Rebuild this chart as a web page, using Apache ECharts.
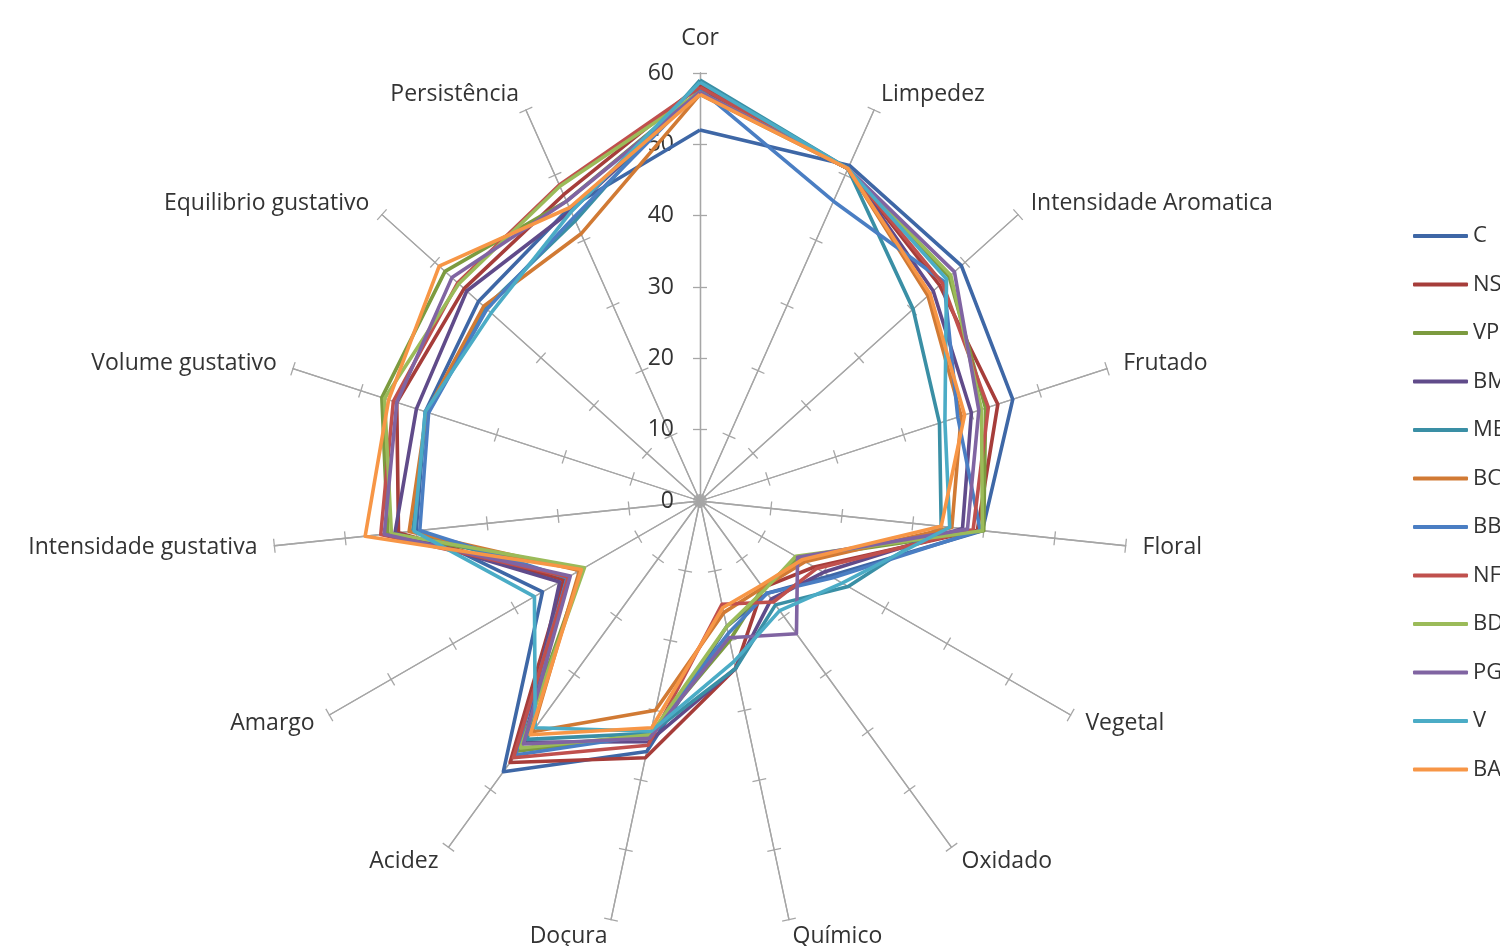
<!DOCTYPE html>
<html>
<head>
<meta charset="utf-8">
<script src="https://cdn.jsdelivr.net/npm/echarts@6/dist/echarts.min.js"></script>
<style>
  html, body { margin: 0; padding: 0; background: #ffffff; }
  #chart { width: 1500px; height: 946px; }
</style>
</head>
<body>
<div id="chart"></div>
<script>
// Sensory attributes, listed clockwise starting at the top
const attributes = ['Cor', 'Limpedez', 'Intensidade Aromatica', 'Frutado', 'Floral', 'Vegetal',
  'Oxidado', 'Químico', 'Doçura', 'Acidez', 'Amargo', 'Intensidade gustativa',
  'Volume gustativo', 'Equilibrio gustativo', 'Persistência'];

// Scale of every spoke
const scaleMin = 0;
const scaleMax = 60;
const scaleStep = 10;

// Sample names (legend order)
const sampleNames = ['C', 'NS', 'VP', 'BM', 'ME', 'BC', 'BB', 'NF', 'BD', 'PG', 'V', 'BA'];

// Scores per sample, same order as attributes
const C  = [52.0, 51.5, 49.3, 46.1, 39.8, 21.0, 16.0, 18.0, 35.9, 46.9, 25.5, 40.0, 40.5, 41.8, 45.0];
const NS = [58.3, 51.0, 45.2, 43.9, 39.1, 18.5, 15.0, 24.0, 36.8, 45.3, 22.1, 42.5, 44.7, 44.5, 47.0];
const VP = [57.5, 51.0, 47.0, 42.1, 40.0, 16.0, 15.0, 20.0, 33.5, 43.3, 19.0, 44.0, 46.9, 48.1, 46.0];
const BM = [57.5, 51.0, 44.0, 40.0, 37.0, 20.0, 17.0, 24.0, 34.5, 41.8, 22.7, 43.0, 41.8, 44.0, 44.5];
const ME = [59.0, 51.0, 40.2, 35.3, 34.0, 24.0, 18.0, 24.0, 33.3, 41.3, 21.5, 40.5, 40.3, 40.5, 43.0];
const BC = [57.0, 51.0, 43.0, 38.5, 35.5, 17.0, 15.0, 16.0, 30.0, 40.0, 19.5, 41.0, 40.3, 40.8, 41.0];
const BB = [57.7, 46.0, 46.0, 38.0, 39.5, 21.5, 16.0, 19.0, 33.5, 44.0, 21.5, 39.5, 40.0, 40.2, 43.5];
const NF = [58.0, 51.0, 45.7, 42.5, 38.5, 18.9, 17.5, 14.8, 35.0, 44.5, 21.3, 45.0, 45.2, 45.7, 48.5];
const BD = [57.3, 51.0, 47.3, 41.5, 39.8, 15.5, 15.4, 18.0, 33.5, 42.8, 18.7, 43.5, 46.5, 45.5, 48.3];
const PG = [57.3, 51.0, 48.0, 41.1, 37.7, 15.8, 23.0, 19.6, 34.0, 42.1, 21.0, 44.5, 44.7, 46.8, 46.0];
const V  = [58.7, 51.0, 46.5, 36.1, 35.2, 23.0, 19.0, 23.0, 33.0, 39.3, 26.8, 40.3, 40.5, 39.4, 44.4];
const BA = [57.0, 51.0, 43.4, 39.0, 34.0, 16.5, 14.6, 15.3, 32.5, 40.5, 19.2, 47.2, 45.9, 49.2, 45.0];

const sampleScores = [C, NS, VP, BM, ME, BC, BB, NF, BD, PG, V, BA];

const sampleColors = ['#3E67A6', '#A63D3A', '#7C9B3F', '#604B8A', '#3A8FA5', '#D17A34',
  '#4A7EC3', '#C0504D', '#9BBB59', '#8064A2', '#4BACC6', '#F79646'];

// ECharts lays radar spokes counter-clockwise; reorder so they run clockwise
const order = [0];
for (let i = attributes.length - 1; i >= 1; i--) order.push(i);
const reorder = arr => order.map(i => arr[i]);

const indicators = reorder(attributes).map(name => ({ name: name, min: scaleMin, max: scaleMax }));

const FONT = 'Open Sans';
const axisColor = '#A6A6A6';
const textColor = '#333333';

const radarBase = {
  indicator: indicators,
  center: [700, 501],
  radius: 428,
  startAngle: 90,
  splitNumber: (scaleMax - scaleMin) / scaleStep,
  shape: 'polygon',
  nameGap: 17,
  splitLine: { show: false },
  splitArea: { show: false },
  axisLabel: { show: false },
  axisLine: { lineStyle: { color: axisColor, width: 1.3 } }
};

const chart = echarts.init(document.getElementById('chart'), null, { renderer: 'canvas' });

chart.setOption({
  animation: false,
  backgroundColor: '#ffffff',
  textStyle: { fontFamily: FONT },
  radar: [
    // spokes, names and the outer half of each cross tick
    Object.assign({}, radarBase, {
      axisName: {
        color: textColor, fontSize: 23, fontFamily: FONT,
        // the top name sits a little higher, clear of the value labels
        formatter: name => (name === attributes[0] ? '{top|' + name + '}' : name),
        rich: { top: { color: textColor, fontSize: 23, fontFamily: FONT, padding: [0, 0, 6, 0] } }
      },
      axisTick: { show: true, length: 7, lineStyle: { color: axisColor, width: 1.3 } }
    }),
    // the other half of each cross tick
    Object.assign({}, radarBase, {
      axisName: { show: false },
      axisTick: { show: true, length: -7, lineStyle: { color: axisColor, width: 1.3 } }
    })
  ],
  // value labels along the top spoke
  grid: { left: 700, top: 73, width: 10, height: 428 },
  xAxis: { type: 'value', show: false },
  yAxis: {
    type: 'value', min: scaleMin, max: scaleMax, interval: scaleStep,
    axisLine: { show: false }, axisTick: { show: false }, splitLine: { show: false },
    axisLabel: { fontSize: 23, color: textColor, fontFamily: FONT, margin: 26 }
  },
  legend: {
    orient: 'vertical',
    left: 1413,
    top: 224,
    padding: 0,
    itemWidth: 55,
    itemHeight: 4,
    itemGap: 24.5,
    icon: 'roundRect',
    data: sampleNames,
    textStyle: { fontSize: 22, color: textColor, fontFamily: FONT, lineHeight: 24 }
  },
  series: sampleNames.map((name, i) => ({
    name: name,
    type: 'radar',
    radarIndex: 0,
    symbol: 'none',
    color: sampleColors[i],
    lineStyle: { width: 3.6, color: sampleColors[i] },
    data: [{ name: name, value: reorder(sampleScores[i]) }]
  }))
});
</script>
</body>
</html>
